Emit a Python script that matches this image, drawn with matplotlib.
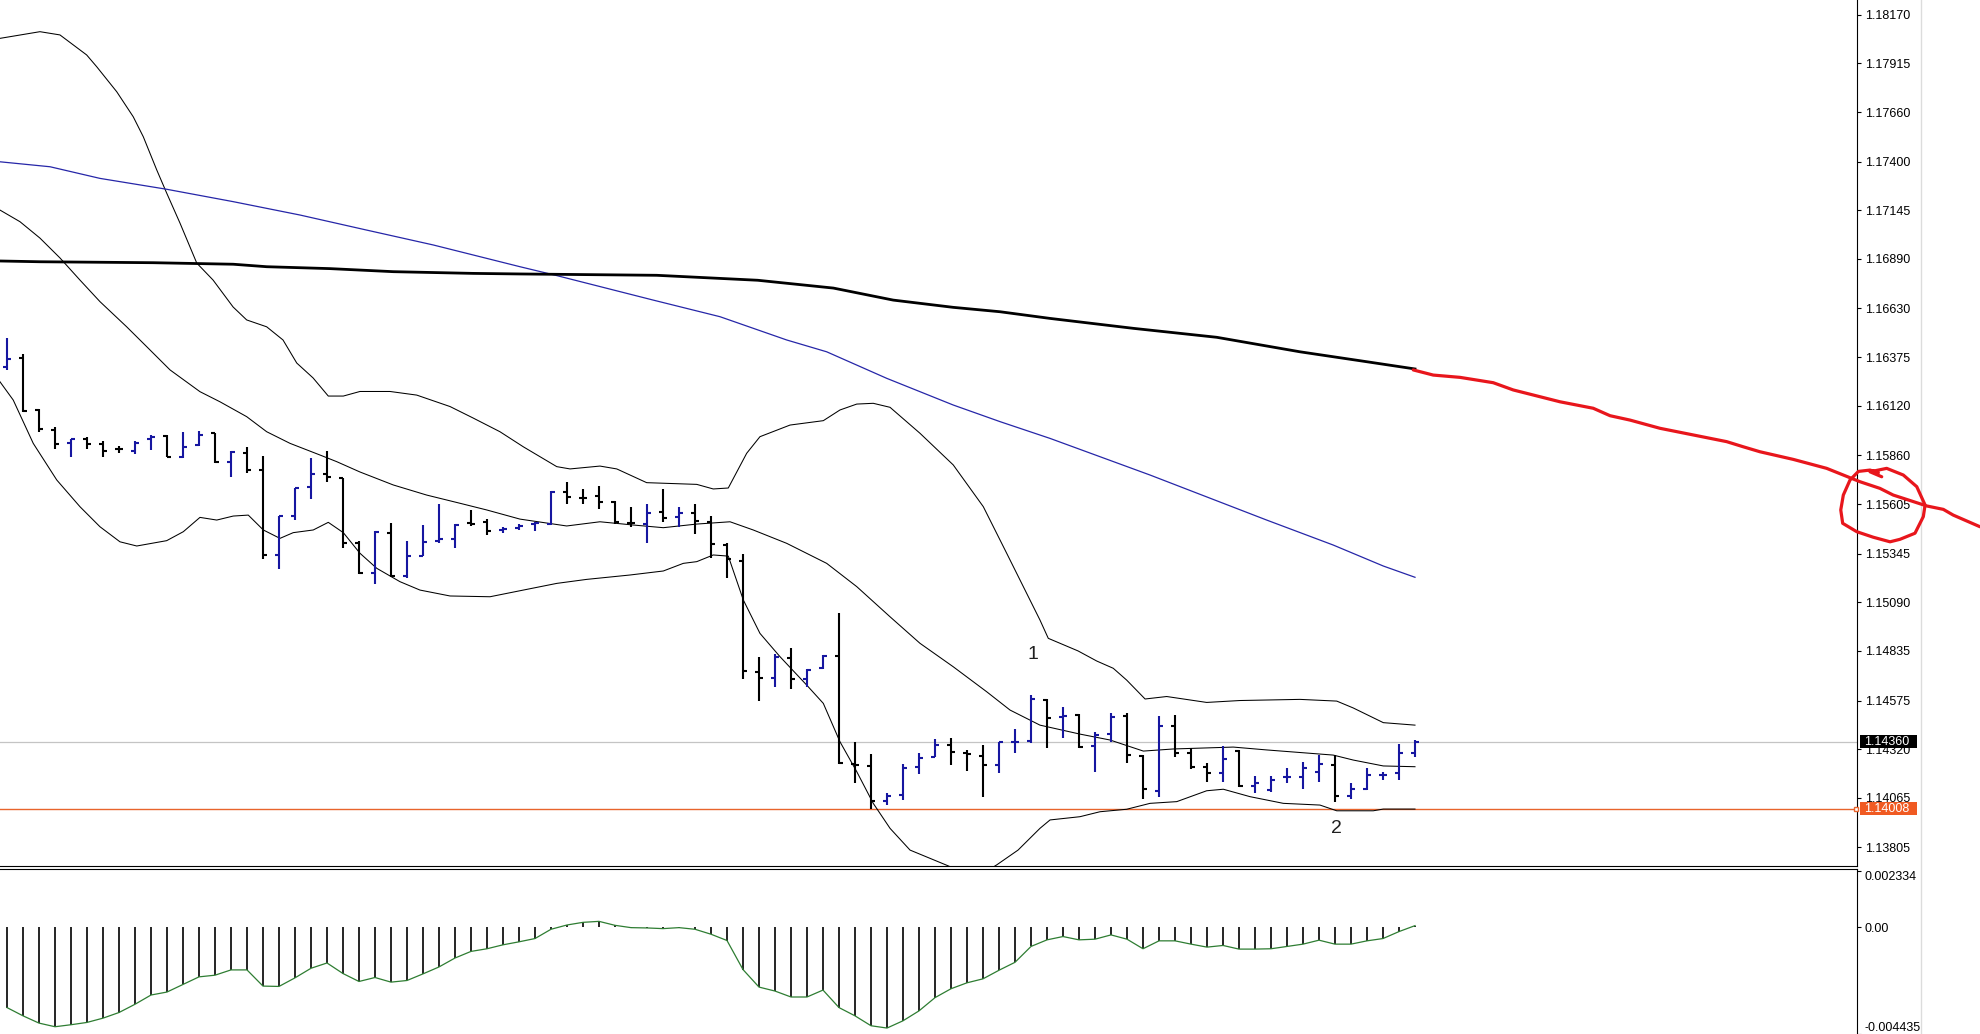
import numpy as np
import matplotlib.pyplot as plt
import matplotlib.transforms as mtransforms
from matplotlib.lines import Line2D
from matplotlib.patches import Rectangle

plt.rcParams['font.family'] = ['Liberation Sans', 'DejaVu Sans']

# OHLC bars (EURUSD style), one entry per bar
opens = [1.16323, 1.16370, 1.16098, 1.15993, 1.15925, 1.15946, 1.15920, 1.15893, 1.15883, 1.15946,
         1.15961, 1.15851, 1.15914, 1.15977, 1.15825, 1.15872, 1.15783, 1.15338, 1.15542, 1.15694,
         1.15762, 1.15741, 1.15401, 1.15243, 1.15453, 1.15228, 1.15332, 1.15411, 1.15422, 1.15505,
         1.15511, 1.15469, 1.15479, 1.15500, 1.15500, 1.15668, 1.15637, 1.15647, 1.15616, 1.15507,
         1.15500, 1.15563, 1.15537, 1.15558, 1.15511, 1.15390, 1.15306, 1.14724, 1.14693, 1.14798,
         1.14688, 1.14745, 1.14808, 1.14242, 1.14232, 1.14048, 1.14080, 1.14226, 1.14279, 1.14342,
         1.14300, 1.14284, 1.14237, 1.14357, 1.14363, 1.14580, 1.14488, 1.14499, 1.14336, 1.14399,
         1.14494, 1.14284, 1.14101, 1.14441, 1.14300, 1.14226, 1.14195, 1.14310, 1.14127, 1.14106,
         1.14173, 1.14174, 1.14200, 1.14237, 1.14074, 1.14111, 1.14184, 1.14195, 1.14300]
highs = [1.16475, 1.16391, 1.16103, 1.16009, 1.15946, 1.15956, 1.15935, 1.15909, 1.15935, 1.15967,
         1.15967, 1.15982, 1.15988, 1.15977, 1.15883, 1.15904, 1.15857, 1.15542, 1.15689, 1.15846,
         1.15883, 1.15741, 1.15411, 1.15464, 1.15505, 1.15411, 1.15495, 1.15605, 1.15500, 1.15574,
         1.15526, 1.15484, 1.15500, 1.15511, 1.15673, 1.15720, 1.15684, 1.15699, 1.15621, 1.15589,
         1.15605, 1.15684, 1.15589, 1.15605, 1.15542, 1.15401, 1.15343, 1.14803, 1.14819, 1.14850,
         1.14740, 1.14814, 1.15034, 1.14357, 1.14295, 1.14090, 1.14242, 1.14300, 1.14373, 1.14378,
         1.14316, 1.14342, 1.14357, 1.14426, 1.14604, 1.14583, 1.14541, 1.14504, 1.14410, 1.14510,
         1.14510, 1.14289, 1.14494, 1.14499, 1.14326, 1.14247, 1.14336, 1.14316, 1.14179, 1.14179,
         1.14221, 1.14253, 1.14289, 1.14289, 1.14143, 1.14221, 1.14200, 1.14347, 1.14368]
lows = [1.16308, 1.16087, 1.15982, 1.15893, 1.15851, 1.15893, 1.15851, 1.15872, 1.15867, 1.15888,
        1.15851, 1.15846, 1.15909, 1.15820, 1.15747, 1.15768, 1.15317, 1.15264, 1.15521, 1.15631,
        1.15720, 1.15374, 1.15238, 1.15186, 1.15222, 1.15217, 1.15332, 1.15401, 1.15374, 1.15490,
        1.15442, 1.15453, 1.15469, 1.15464, 1.15495, 1.15605, 1.15605, 1.15579, 1.15500, 1.15484,
        1.15401, 1.15511, 1.15484, 1.15448, 1.15322, 1.15217, 1.14688, 1.14572, 1.14646, 1.14635,
        1.14646, 1.14740, 1.14242, 1.14143, 1.14006, 1.14027, 1.14053, 1.14190, 1.14279, 1.14237,
        1.14205, 1.14069, 1.14195, 1.14300, 1.14352, 1.14326, 1.14378, 1.14326, 1.14200, 1.14357,
        1.14247, 1.14059, 1.14069, 1.14279, 1.14216, 1.14148, 1.14148, 1.14122, 1.14090, 1.14095,
        1.14143, 1.14111, 1.14148, 1.14043, 1.14059, 1.14106, 1.14158, 1.14158, 1.14279]
closes = [1.16365, 1.16092, 1.15998, 1.15920, 1.15946, 1.15920, 1.15883, 1.15893, 1.15925, 1.15956,
          1.15853, 1.15904, 1.15967, 1.15825, 1.15878, 1.15783, 1.15338, 1.15542, 1.15689, 1.15762,
          1.15747, 1.15401, 1.15243, 1.15458, 1.15228, 1.15332, 1.15406, 1.15422, 1.15495, 1.15500,
          1.15464, 1.15474, 1.15490, 1.15505, 1.15668, 1.15642, 1.15637, 1.15616, 1.15511, 1.15504,
          1.15558, 1.15532, 1.15558, 1.15516, 1.15395, 1.15317, 1.14730, 1.14693, 1.14803, 1.14688,
          1.14735, 1.14808, 1.14247, 1.14237, 1.14048, 1.14074, 1.14221, 1.14274, 1.14342, 1.14305,
          1.14295, 1.14237, 1.14355, 1.14360, 1.14583, 1.14483, 1.14494, 1.14331, 1.14394, 1.14488,
          1.14289, 1.14111, 1.14441, 1.14300, 1.14226, 1.14195, 1.14268, 1.14127, 1.14143, 1.14158,
          1.14176, 1.14221, 1.14242, 1.14074, 1.14111, 1.14184, 1.14186, 1.14300, 1.14360]

# oscillator in the lower window
osc = [-0.003337, -0.003680, -0.003982, -0.004133, -0.004050, -0.003954, -0.003776, -0.003542, -0.003199, -0.002815,
       -0.002691, -0.002375, -0.002060, -0.001991, -0.001771, -0.001771, -0.002444, -0.002458, -0.002101, -0.001703,
       -0.001483, -0.001922, -0.002252, -0.002087, -0.002279, -0.002211, -0.001936, -0.001648, -0.001277, -0.001002,
       -0.000892, -0.000728, -0.000604, -0.000467, -0.000082, 0.000096, 0.000206, 0.000247, 0.000082, -0.000014,
       -0.000027, -0.000055, -0.000014, -0.000082, -0.000288, -0.000549, -0.001757, -0.002485, -0.002650, -0.002897,
       -0.002897, -0.002609, -0.003337, -0.003680, -0.004092, -0.004188, -0.003886, -0.003474, -0.002924, -0.002554,
       -0.002307, -0.002142, -0.001785, -0.001455, -0.000796, -0.000522, -0.000384, -0.000522, -0.000494, -0.000316,
       -0.000494, -0.000892, -0.000563, -0.000563, -0.000700, -0.000824, -0.000755, -0.000906, -0.000906, -0.000892,
       -0.000796, -0.000700, -0.000535, -0.000700, -0.000700, -0.000563, -0.000467, -0.000178, 0.000069]

# bollinger bands (x in bar numbers)
bb_up_x = [-0.44, 2.06, 3.31, 4.98, 5.61, 6.86, 7.89, 8.52, 9.36, 9.98, 10.81, 11.86, 12.88, 14.13, 14.98, 16.23,
           17.25, 18.11, 19.13, 20.08, 21.02, 22.06, 23.94, 25.61, 27.69, 29.13, 30.81, 32.27, 34.36, 35.19, 37.06,
           38.11, 39.98, 43.11, 44.14, 45.08, 46.23, 47.06, 48.94, 51.02, 52.06, 53.11, 54.14, 55.19, 57.06, 59.14,
           61.02, 62.48, 64.56, 65.08, 66.94, 68.11, 69.14, 69.98, 71.13, 72.48, 74.98, 77.06, 80.81, 83.11, 84.14,
           86.02, 88.0]
bb_up = [1.18046, 1.18081, 1.18064, 1.17959, 1.17897, 1.17766, 1.17635, 1.17530, 1.17356, 1.17235, 1.17078, 1.16868,
         1.16779, 1.16638, 1.16570, 1.16534, 1.16465, 1.16344, 1.16266, 1.16171, 1.16171, 1.16195, 1.16195, 1.16176,
         1.16116, 1.16056, 1.15984, 1.15905, 1.15801, 1.15789, 1.15804, 1.15789, 1.15717, 1.15708, 1.15684, 1.15689,
         1.15871, 1.15958, 1.16019, 1.16042, 1.16098, 1.16129, 1.16133, 1.16112, 1.15976, 1.15810, 1.15591, 1.15347,
         1.14997, 1.14901, 1.14835, 1.14782, 1.14744, 1.14682, 1.14583, 1.14596, 1.14565, 1.14575, 1.14581, 1.14572,
         1.14536, 1.14459, 1.14446]
bb_mid_x = [-0.44, 0.81, 2.06, 3.31, 4.56, 5.81, 7.48, 8.73, 10.19, 12.06, 13.31, 14.98, 16.23, 17.69, 19.56, 20.61,
            22.06, 24.14, 26.23, 28.31, 29.98, 32.06, 34.98, 37.06, 39.14, 41.02, 43.11, 45.19, 46.64, 48.73, 51.23,
            53.11, 55.19, 57.06, 59.14, 61.23, 62.69, 64.56, 67.06, 68.94, 71.02, 72.89, 76.64, 78.73, 82.89, 84.14,
            86.02, 88.0]
bb_mid = [1.17146, 1.17085, 1.16999, 1.16895, 1.16779, 1.16666, 1.16534, 1.16430, 1.16308, 1.16194, 1.16141, 1.16063,
          1.15984, 1.15923, 1.15862, 1.15827, 1.15773, 1.15705, 1.15652, 1.15609, 1.15574, 1.15526, 1.15490, 1.15512,
          1.15495, 1.15481, 1.15500, 1.15512, 1.15469, 1.15399, 1.15294, 1.15172, 1.15014, 1.14875, 1.14752, 1.14621,
          1.14525, 1.14446, 1.14399, 1.14368, 1.14310, 1.14321, 1.14331, 1.14316, 1.14289, 1.14263, 1.14232, 1.14228]
bb_low_x = [-0.44, 0.39, 1.64, 3.11, 4.56, 5.81, 7.06, 8.11, 9.98, 11.02, 12.06, 13.11, 14.14, 15.08, 16.02, 17.06,
            17.89, 19.14, 20.08, 21.02, 22.06, 23.11, 24.56, 25.81, 27.69, 30.19, 32.27, 34.36, 36.23, 38.94, 41.02,
            42.27, 43.11, 44.14, 45.08, 46.02, 47.06, 48.31, 49.98, 51.02, 52.06, 53.11, 54.14, 55.19, 56.44, 58.69,
            59.88, 61.13, 61.85, 63.19, 64.56, 65.19, 67.06, 68.31, 69.98, 71.44, 73.11, 74.98, 76.02, 77.69, 79.77,
            82.06, 83.11, 85.39, 86.02, 88.0]
bb_low = [1.16246, 1.16150, 1.15923, 1.15731, 1.15591, 1.15486, 1.15407, 1.15385, 1.15413, 1.15460, 1.15535, 1.15521,
          1.15542, 1.15547, 1.15469, 1.15425, 1.15455, 1.15469, 1.15509, 1.15455, 1.15347, 1.15268, 1.15198, 1.15154,
          1.15123, 1.15119, 1.15154, 1.15189, 1.15210, 1.15233, 1.15254, 1.15294, 1.15303, 1.15338, 1.15332, 1.15102,
          1.14927, 1.14805, 1.14656, 1.14560, 1.14359, 1.14202, 1.14036, 1.13905, 1.13791, 1.13713, 1.13671, 1.13676,
          1.13713, 1.13791, 1.13905, 1.13949, 1.13966, 1.13992, 1.14005, 1.14036, 1.14045, 1.14102, 1.14110, 1.14071,
          1.14036, 1.14027, 1.13997, 1.13997, 1.14006, 1.14006]

# moving averages
ma_blue_x = [-0.44, 2.69, 5.81, 9.98, 14.14, 18.31, 22.48, 26.64, 32.06, 34.29, 40.39, 44.56, 48.73, 51.23, 54.98,
             59.14, 62.06, 65.19, 71.44, 78.73, 82.89, 86.02, 88.0]
ma_blue = [1.17399, 1.17373, 1.17312, 1.17255, 1.17190, 1.17120, 1.17041, 1.16963, 1.16849, 1.16804, 1.16674,
           1.16587, 1.16465, 1.16403, 1.16264, 1.16124, 1.16037, 1.15949, 1.15757, 1.15521, 1.15390, 1.15280, 1.15221]
ma_black_x = [-0.44, 2.06, 9.14, 14.14, 16.23, 20.19, 24.14, 29.14, 32.06, 40.61, 46.92, 51.65, 55.39, 59.14, 62.06,
              65.19, 70.39, 75.61, 80.81, 84.98, 88.0]
ma_black = [1.16879, 1.16875, 1.16870, 1.16862, 1.16849, 1.16839, 1.16823, 1.16814, 1.16811, 1.16804, 1.16778,
            1.16737, 1.16674, 1.16636, 1.16613, 1.16578, 1.16526, 1.16479, 1.16403, 1.16351, 1.16313]

# hand drawn red projection + circle
red_x = [87.89, 89.14, 90.81, 92.89, 94.14, 97.06, 99.14, 100.19, 101.44, 103.31, 107.48, 108.52, 109.56, 111.64,
         113.73, 115.81, 117.06, 117.89, 119.98, 121.02, 121.64, 123.31]
red_y = [1.16308, 1.16281, 1.16269, 1.16241, 1.16203, 1.16141, 1.16107, 1.16068, 1.16045, 1.16002, 1.15932, 1.15905,
         1.15879, 1.15839, 1.15792, 1.15722, 1.15687, 1.15652, 1.15595, 1.15577, 1.15547, 1.15486]
circle_x = [117.17, 116.44, 117.48, 118.52, 119.36, 119.88, 119.77, 119.25, 118.31, 117.69, 116.64, 115.61, 114.73,
            114.61, 114.77, 115.19, 115.71, 116.44, 116.96]
circle_y = [1.15748, 1.15774, 1.15792, 1.15757, 1.15696, 1.15600, 1.15539, 1.15452, 1.15420, 1.15407, 1.15431,
            1.15460, 1.15504, 1.15574, 1.15652, 1.15731, 1.15776, 1.15783, 1.15769]

wave_labels = ['1', '2']
wave_x = [64.1, 83.1]
wave_y = [1.14817, 1.13905]

support = 1.14008
price_ticks = [1.18170, 1.17915, 1.17660, 1.17400, 1.17145, 1.16890, 1.16630, 1.16375, 1.16120, 1.15860,
               1.15605, 1.15345, 1.15090, 1.14835, 1.14575, 1.14320, 1.14065, 1.13805]
osc_ticks = [0.002334, 0.0, -0.004435]
osc_tick_labels = ['0.002334', '0.00', '-0.004435']

# ---- layout ----
W, H = 1980, 1034
fig = plt.figure(figsize=(W / 100, H / 100), dpi=100)
fig.patch.set_facecolor('white')
ax = fig.add_axes([0, 168.5 / H, 1857 / W, 865.5 / H])
ax2 = fig.add_axes([0, 0, 1857 / W, 165.5 / H], sharex=ax)

ax.set_xlim(-0.4375, 115.625)
ax.set_ylim(1.137102, 1.182471)
ax2.set_ylim(-0.004435, 0.002444)

blue = '#1616a0'
x = np.arange(len(opens))
o, h, l, c = map(np.array, (opens, highs, lows, closes))
cols = [blue if cc > oo else 'black' for oo, cc in zip(o, c)]

# indicator lines
ax.plot(bb_up_x, bb_up, color='black', lw=0.75, zorder=2)
ax.plot(bb_mid_x, bb_mid, color='black', lw=0.75, zorder=2)
ax.plot(bb_low_x, bb_low, color='black', lw=0.75, zorder=2)
ax.plot(ma_blue_x, ma_blue, color='#2626a8', lw=0.9, zorder=2)
ax.plot(ma_black_x, ma_black, color='black', lw=2.0, zorder=2)

# price lines
ax.axhline(closes[-1], color='#c4c4c4', lw=0.9, zorder=1)
ax.axhline(support, color='#e8642c', lw=1.0, zorder=1)

# bars
ax.vlines(x, l, h, colors=cols, lw=1.5, zorder=4)
ax.hlines(o, x - 0.28, x, colors=cols, lw=1.5, zorder=4)
ax.hlines(c, x, x + 0.28, colors=cols, lw=1.5, zorder=4)

for t, tx, ty in zip(wave_labels, wave_x, wave_y):
    ax.text(tx, ty, t, fontsize=14, ha='center', va='center', color='#202020')

# red drawing on top
ax.plot(red_x, red_y, color='#e8161c', lw=2.3, clip_on=False, zorder=10,
        solid_capstyle='round', solid_joinstyle='round')
ax.plot(circle_x, circle_y, color='#e8161c', lw=2.3, clip_on=False, zorder=10,
        solid_capstyle='round', solid_joinstyle='round')

# axes styling
for a in (ax, ax2):
    a.set_facecolor('white')
    a.spines['left'].set_visible(False)
    a.spines['right'].set_linewidth(0.8)
    a.yaxis.tick_right()
    a.tick_params(axis='y', direction='out', length=3, width=0.8, pad=2.5,
                  labelsize=9, colors='black')
    a.tick_params(axis='x', bottom=False, labelbottom=False)
ax.spines['top'].set_visible(False)
ax.spines['bottom'].set_linewidth(0.8)
ax2.spines['bottom'].set_visible(False)
ax2.spines['top'].set_linewidth(0.8)

ax.set_yticks(price_ticks)
ax.set_yticklabels(['%.5f' % v for v in price_ticks])
ax2.set_yticks(osc_ticks)
ax2.set_yticklabels(osc_tick_labels)
lbls = ax2.get_yticklabels()
lbls[0].set_va('top')
lbls[-1].set_va('bottom')

# price label boxes on the scale
bt = mtransforms.blended_transform_factory(ax.transAxes, ax.transData)
box_h = 0.00068
for val, fc in ((closes[-1], 'black'), (support, '#f05a22')):
    ax.add_patch(Rectangle((1.0015, val - box_h / 2), 0.0308, box_h, transform=bt,
                           facecolor=fc, edgecolor='none', clip_on=False, zorder=11))
    ax.text(1.0038, val, '%.5f' % val, transform=bt, color='white', fontsize=9,
            ha='left', va='center', clip_on=False, zorder=12)
ax.plot([0.9993], [support], transform=bt, marker='s', ms=3.5, mfc='white',
        mec='#e8642c', mew=1, clip_on=False, zorder=5)

# oscillator
ax2.vlines(x, 0, osc, colors='black', lw=1.2)
ax2.plot(x, osc, color='#2e7d32', lw=0.9)

fig.add_artist(Line2D([1921 / W, 1921 / W], [0, 1], transform=fig.transFigure,
                      color='#dcdcdc', lw=1, zorder=-1))

fig.savefig('out.png', dpi=100, facecolor='white')
